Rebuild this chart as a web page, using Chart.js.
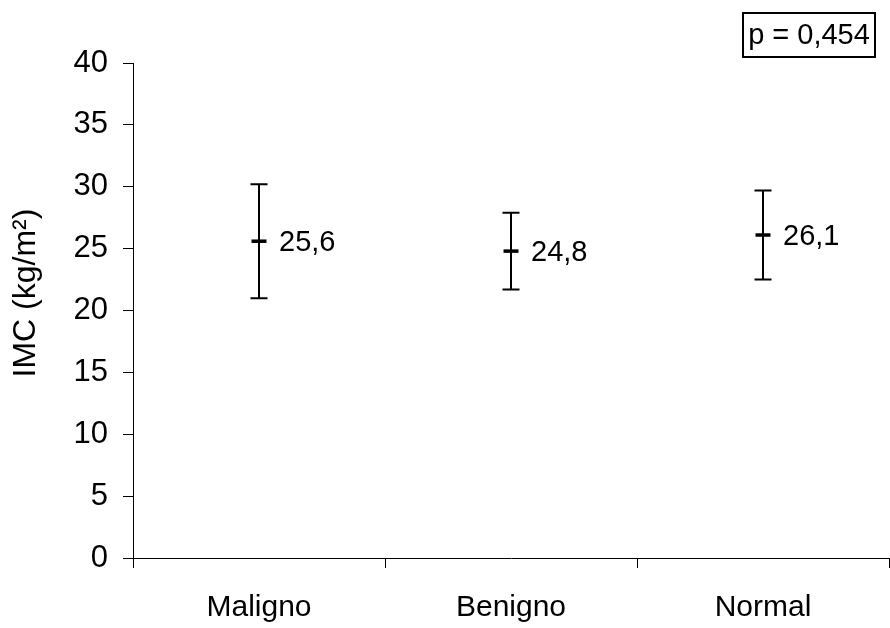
<!DOCTYPE html>
<html>
<head>
<meta charset="utf-8">
<script src="https://cdn.jsdelivr.net/npm/chart.js@4.4.1/dist/chart.umd.min.js"></script>
<style>
  html, body { margin: 0; padding: 0; background: #fff; overflow: hidden; }
  #wrap { position: absolute; left: 0; top: 0; width: 900px; height: 628px; }
</style>
</head>
<body>
<div id="wrap"><canvas id="imcChart"></canvas></div>
<script>
const grupos = ["Maligno", "Benigno", "Normal"];
const medias = [25.6, 24.8, 26.1];
const limiteSuperior = [30.2, 27.9, 29.7];
const limiteInferior = [21.0, 21.7, 22.5];
const rotulosMedia = ["25,6", "24,8", "26,1"];
const tituloY = "IMC (kg/m²)";
const textoP = "p = 0,454";

const FONT = "'Liberation Sans', Arial, sans-serif";

// barras de erro, rótulos, título do eixo e caixa do p
const errorBars = {
    id: "errorBars",
    afterDatasetsDraw(chart) {
        const ctx = chart.ctx;
        const x = chart.scales.x;
        const y = chart.scales.y;
        ctx.save();
        ctx.strokeStyle = "#000";
        ctx.lineWidth = 2;
        grupos.forEach((g, i) => {
            const px = x.getPixelForValue(i);
            const yTop = y.getPixelForValue(limiteSuperior[i]);
            const yBot = y.getPixelForValue(limiteInferior[i]);
            ctx.beginPath();
            ctx.moveTo(px, yTop); ctx.lineTo(px, yBot);
            ctx.moveTo(px - 8.5, yTop); ctx.lineTo(px + 8.5, yTop);
            ctx.moveTo(px - 8.5, yBot); ctx.lineTo(px + 8.5, yBot);
            ctx.stroke();

            ctx.fillStyle = "#000";
            ctx.font = "29px " + FONT;
            ctx.textAlign = "left";
            ctx.textBaseline = "middle";
            ctx.fillText(rotulosMedia[i], px + 20, y.getPixelForValue(medias[i]) + 2);
        });

        // título do eixo y
        ctx.save();
        ctx.translate(26, 293);
        ctx.rotate(-Math.PI / 2);
        ctx.font = "32px " + FONT;
        ctx.textAlign = "center";
        ctx.textBaseline = "middle";
        ctx.fillText(tituloY, 0, 0);
        ctx.restore();

        ctx.lineWidth = 2;
        ctx.strokeRect(743, 13, 132, 44);
        ctx.font = "29px " + FONT;
        ctx.textAlign = "center";
        ctx.textBaseline = "middle";
        ctx.fillText(textoP, 809, 36);
        ctx.restore();
    }
};

new Chart(document.getElementById("imcChart"), {
    type: "line",
    data: {
        labels: grupos,
        datasets: [{
            label: "IMC",
            data: medias,
            showLine: false,
            pointStyle: "line",
            pointRadius: 7.5,
            pointHoverRadius: 7.5,
            borderWidth: 3.5,
            borderColor: "#000",
            backgroundColor: "#000"
        }]
    },
    options: {
        responsive: true,
        maintainAspectRatio: false,
        animation: false,
        layout: { padding: { top: 63, right: 5, bottom: 0, left: 0 } },
        plugins: {
            legend: { display: false },
            tooltip: { enabled: false }
        },
        scales: {
            x: {
                type: "category",
                offset: true,
                afterFit: s => { s.height = 70; },
                grid: {
                    offset: true,
                    drawOnChartArea: false,
                    tickLength: 10,
                    color: "#000"
                },
                border: { display: true, color: "#000", width: 1 },
                ticks: {
                    padding: 22,
                    color: "#000",
                    font: { family: FONT, size: 30 }
                }
            },
            y: {
                min: 0,
                max: 40,
                afterFit: s => { s.width = 133; },
                grid: {
                    drawOnChartArea: false,
                    tickLength: 10,
                    color: "#000"
                },
                border: { display: true, color: "#000", width: 1 },
                ticks: {
                    stepSize: 5,
                    padding: 15,
                    color: "#000",
                    font: { family: FONT, size: 31 }
                }
            }
        }
    },
    plugins: [errorBars]
});
</script>
</body>
</html>
